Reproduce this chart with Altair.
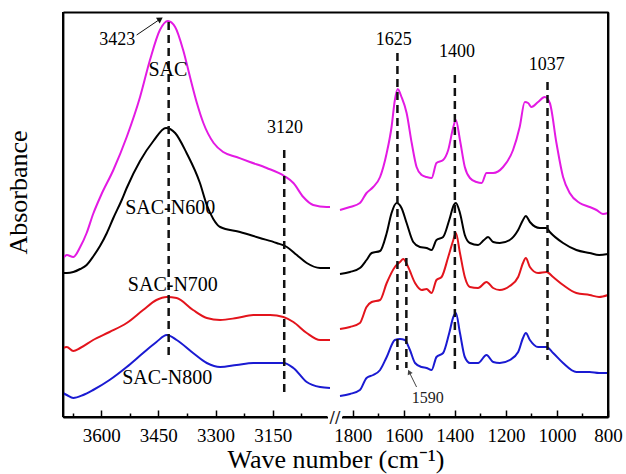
import altair as alt
import pandas as pd

# ---------------- data (wave number cm-1, absorbance a.u.) ----------------
SERIES = ["SAC", "SAC-N600", "SAC-N700", "SAC-N800"]
COLORS = ["#e31ae3", "#000000", "#e3141c", "#1a1ad2"]

SAC_WN_HI = [3700, 3690, 3673, 3655, 3638, 3621, 3600, 3568, 3533, 3498, 3472, 3446, 3425, 3406,
             3385, 3367, 3349, 3332, 3305, 3280, 3245, 3210, 3166, 3120, 3096, 3070, 3044, 3009, 3000]
SAC_AB_HI = [1.59, 1.62, 1.60, 1.70, 1.84, 2.03, 2.22, 2.47, 2.80, 3.20, 3.57, 3.87, 3.96, 3.90,
             3.67, 3.40, 3.14, 2.94, 2.74, 2.65, 2.60, 2.55, 2.49, 2.41, 2.34, 2.20, 2.12, 2.10, 2.10]
SAC_WN_LO = [1850, 1811, 1772, 1746, 1720, 1693, 1667, 1648, 1635, 1624, 1609, 1589, 1569, 1550,
             1530, 1511, 1491, 1472, 1446, 1426, 1406, 1396, 1380, 1361, 1341, 1315, 1295, 1276,
             1250, 1211, 1172, 1146, 1126, 1113, 1100, 1074, 1048, 1028, 1002, 976, 950, 911, 872,
             845, 820, 800]
SAC_AB_LO = [2.07, 2.10, 2.14, 2.24, 2.30, 2.40, 2.64, 2.90, 3.17, 3.28, 3.20, 3.04, 2.74, 2.50,
             2.42, 2.40, 2.39, 2.54, 2.57, 2.67, 2.90, 2.97, 2.77, 2.50, 2.39, 2.35, 2.34, 2.44,
             2.44, 2.50, 2.67, 2.90, 3.15, 3.14, 3.10, 3.15, 3.20, 3.14, 2.74, 2.40, 2.24, 2.14, 2.10,
             2.07, 2.03, 2.04]

N600_WN_HI = [3700, 3690, 3673, 3655, 3638, 3620, 3603, 3585, 3568, 3546, 3533, 3498, 3463, 3430,
              3406, 3376, 3341, 3323, 3306, 3288, 3236, 3184, 3140, 3113, 3087, 3061, 3026, 3000]
N600_AB_HI = [1.44, 1.44, 1.45, 1.48, 1.52, 1.61, 1.71, 1.84, 1.99, 2.17, 2.29, 2.56, 2.76, 2.89,
              2.84, 2.64, 2.34, 2.12, 1.98, 1.90, 1.85, 1.79, 1.74, 1.70, 1.62, 1.54, 1.49, 1.49]
N600_WN_LO = [1850, 1811, 1772, 1746, 1726, 1693, 1667, 1648, 1628, 1609, 1589, 1563, 1537, 1511,
              1491, 1472, 1446, 1422, 1404, 1396, 1380, 1361, 1341, 1309, 1286, 1270, 1250, 1224,
              1185, 1152, 1133, 1122, 1106, 1067, 1041, 1028, 976, 924, 872, 835, 800]
N600_AB_LO = [1.43, 1.45, 1.49, 1.57, 1.64, 1.66, 1.84, 2.04, 2.14, 2.09, 1.94, 1.75, 1.70, 1.69,
              1.67, 1.77, 1.80, 1.97, 2.12, 2.14, 2.04, 1.82, 1.74, 1.72, 1.77, 1.80, 1.75, 1.74,
              1.77, 1.87, 1.97, 2.01, 1.95, 1.89, 1.89, 1.85, 1.74, 1.67, 1.64, 1.62, 1.63]

N700_WN_HI = [3700, 3690, 3673, 3655, 3621, 3578, 3533, 3490, 3455, 3428, 3402, 3359, 3323, 3288,
              3245, 3201, 3157, 3122, 3096, 3061, 3026, 3000]
N700_AB_HI = [0.69, 0.70, 0.66, 0.69, 0.77, 0.85, 0.94, 1.07, 1.17, 1.20, 1.19, 1.07, 0.99, 0.97,
              0.99, 1.02, 1.02, 1.00, 0.95, 0.84, 0.77, 0.77]
N700_WN_LO = [1850, 1811, 1772, 1746, 1726, 1693, 1667, 1635, 1615, 1602, 1583, 1556, 1530, 1511,
              1491, 1472, 1452, 1426, 1406, 1396, 1380, 1361, 1341, 1309, 1276, 1250, 1224, 1185,
              1152, 1133, 1122, 1106, 1074, 1041, 1015, 976, 924, 872, 835, 800]
N700_AB_LO = [0.88, 0.90, 0.94, 1.10, 1.15, 1.17, 1.34, 1.50, 1.55, 1.58, 1.50, 1.34, 1.27, 1.28,
              1.24, 1.37, 1.40, 1.60, 1.77, 1.84, 1.64, 1.40, 1.30, 1.29, 1.35, 1.29, 1.27, 1.31,
              1.40, 1.54, 1.59, 1.50, 1.44, 1.45, 1.40, 1.32, 1.24, 1.22, 1.20, 1.22]

N800_WN_HI = [3700, 3690, 3673, 3647, 3621, 3578, 3533, 3490, 3455, 3428, 3402, 3359, 3323, 3288,
              3245, 3201, 3157, 3122, 3096, 3061, 3026, 3000]
N800_AB_HI = [0.24, 0.22, 0.19, 0.22, 0.27, 0.37, 0.50, 0.64, 0.75, 0.82, 0.77, 0.64, 0.54, 0.50,
              0.52, 0.54, 0.54, 0.54, 0.49, 0.35, 0.30, 0.29]
N800_WN_LO = [1850, 1811, 1772, 1746, 1720, 1693, 1667, 1635, 1615, 1596, 1576, 1556, 1530, 1511,
              1491, 1472, 1446, 1422, 1406, 1396, 1380, 1361, 1341, 1309, 1276, 1250, 1224, 1185,
              1152, 1133, 1122, 1106, 1074, 1041, 1015, 976, 924, 872, 835, 800]
N800_AB_LO = [0.21, 0.23, 0.27, 0.39, 0.42, 0.47, 0.60, 0.77, 0.78, 0.77, 0.67, 0.54, 0.50, 0.49,
              0.47, 0.60, 0.64, 0.84, 1.00, 1.04, 0.84, 0.60, 0.54, 0.54, 0.62, 0.55, 0.54, 0.57,
              0.65, 0.79, 0.84, 0.77, 0.70, 0.70, 0.64, 0.54, 0.45, 0.45, 0.44, 0.44]

# marked bands (dashed lines): wave number, top and bottom absorbance
BAND_WN = [3423, 3120, 1625, 1590, 1400, 1037]
BAND_TOP = [3.95, 2.67, 3.64, 1.59, 3.42, 3.35]
BAND_BOT = [0.60, 0.20, 0.47, 0.49, 0.45, 0.57]

# text annotations
SERIES_LABEL_WN = [3425, 3419, 3412, 3427]
SERIES_LABEL_AB = [3.47, 2.09, 1.32, 0.39]
PEAK_TEXT = ["3423", "3120", "1625", "1400", "1037"]
PEAK_WN = [3558, 3118, 1639, 1392, 1040]
PEAK_AB = [3.77, 2.89, 3.77, 3.65, 3.52]
SMALL_TEXT = ["1590"]
SMALL_WN = [1506]
SMALL_AB = [0.19]

# arrows (start wn, start ab, end wn, end ab)
ARROW_BIG = [3507, 3.82, 3445, 3.98]
ARROW_SMALL = [1550, 0.30, 1579, 0.45]

# axis ticks
MAJOR_TICKS = [3600, 3450, 3300, 3150, 1800, 1600, 1400, 1200, 1000, 800]
MINOR_TICKS = [3675, 3525, 3375, 3225, 3075, 1700, 1500, 1300, 1100, 900]

# ---------------- broken axis mapping ----------------
HI_START, HI_END = 3700, 3000
LO_START, LO_END = 1850, 800
HI_W, GAP, LO_W = 267, 10, 268
TOTAL = HI_W + GAP + LO_W
Y_MAX = 4.05
H = 405


def to_pos(wn):
    if wn >= 2500:
        return (HI_START - wn) * HI_W / (HI_START - HI_END)
    return HI_W + GAP + (LO_START - wn) * LO_W / (LO_START - LO_END)


rows = []
for name, parts in zip(SERIES, [
    [(SAC_WN_HI, SAC_AB_HI), (SAC_WN_LO, SAC_AB_LO)],
    [(N600_WN_HI, N600_AB_HI), (N600_WN_LO, N600_AB_LO)],
    [(N700_WN_HI, N700_AB_HI), (N700_WN_LO, N700_AB_LO)],
    [(N800_WN_HI, N800_AB_HI), (N800_WN_LO, N800_AB_LO)],
]):
    for panel, (wns, abs_) in enumerate(parts):
        for w, a in zip(wns, abs_):
            rows.append({"series": name, "panel": panel, "wn": w, "ab": a, "pos": to_pos(w)})
spec_df = pd.DataFrame(rows)

FONT = "Liberation Serif"
LINE = dict(domainColor="black", domainWidth=1.8)

x_scale = alt.Scale(domain=[0, TOTAL], nice=False, zero=False)
y_scale = alt.Scale(domain=[0, Y_MAX], nice=False, zero=False)

x_axis = alt.Axis(orient="bottom", values=[to_pos(v) for v in MAJOR_TICKS],
                  labelExpr=("datum.value < %d ? format(%d - datum.value*%f, '.0f') : "
                             "format(%d - (datum.value-%d)*%f, '.0f')")
                  % (HI_W + 5, HI_START, (HI_START - HI_END) / HI_W,
                     LO_START, HI_W + GAP, (LO_START - LO_END) / LO_W),
                  ticks=False, domain=True, grid=False, **LINE,
                  labelFont=FONT, labelFontSize=19, labelColor="black",
                  labelPadding=9, labelFlush=False, labelOverlap=False,
                  title="Wave number (cm⁻¹)", titleFont=FONT, titleFontSize=26,
                  titleFontWeight="normal", titleColor="black", titlePadding=1)
y_axis = alt.Axis(orient="left", labels=False, ticks=False, domain=True, grid=False, **LINE,
                  title="Absorbance", titleFont=FONT, titleFontSize=26,
                  titleFontWeight="normal", titleColor="black", titlePadding=32,
                  titleY=180)


def xq(f="pos"):
    return alt.X(f + ":Q", scale=x_scale, axis=x_axis)


def yq(f):
    return alt.Y(f + ":Q", scale=y_scale, axis=y_axis)


lines = alt.Chart(spec_df).mark_line(strokeWidth=2, interpolate="monotone").encode(
    x=xq(), y=yq("ab"),
    color=alt.Color("series:N", scale=alt.Scale(domain=SERIES, range=COLORS), legend=None),
    detail="panel:N",
)

band_df = pd.DataFrame({"wn": BAND_WN, "top": BAND_TOP, "bot": BAND_BOT})
band_df["pos"] = band_df["wn"].map(to_pos)
bands = alt.Chart(band_df).mark_rule(color="#111", strokeWidth=2.5, strokeDash=[8, 5]).encode(
    x=xq(), y=yq("top"), y2="bot:Q")

lab_df = pd.DataFrame({"t": SERIES, "wn": SERIES_LABEL_WN, "ab": SERIES_LABEL_AB})
lab_df["pos"] = lab_df["wn"].map(to_pos)
series_text = alt.Chart(lab_df).mark_text(font=FONT, fontSize=20, color="black",
                                          align="center", baseline="middle").encode(
    x=xq(), y=yq("ab"), text="t:N")

peak_df = pd.DataFrame({"t": PEAK_TEXT, "wn": PEAK_WN, "ab": PEAK_AB})
peak_df["pos"] = peak_df["wn"].map(to_pos)
peak_text = alt.Chart(peak_df).mark_text(font=FONT, fontSize=18, color="black",
                                         align="center", baseline="middle").encode(
    x=xq(), y=yq("ab"), text="t:N")

small_df = pd.DataFrame({"t": SMALL_TEXT, "wn": SMALL_WN, "ab": SMALL_AB})
small_df["pos"] = small_df["wn"].map(to_pos)
small_text = alt.Chart(small_df).mark_text(font=FONT, fontSize=16, color="#222",
                                           align="center", baseline="middle").encode(
    x=xq(), y=yq("ab"), text="t:N")


def arrow(a, color, width, size, angle):
    df = pd.DataFrame({"p1": [to_pos(a[0])], "a1": [a[1]], "p2": [to_pos(a[2])], "a2": [a[3]]})
    shaft = alt.Chart(df).mark_rule(color=color, strokeWidth=width).encode(
        x=xq("p1"), y=yq("a1"), x2="p2:Q", y2="a2:Q")
    head = alt.Chart(df).mark_point(shape="triangle-up", filled=True, color=color, size=size,
                                    angle=angle, opacity=1).encode(
        x=xq("p2"), y=yq("a2"))
    return shaft + head


arrow_big = arrow(ARROW_BIG, "#111", 1, 45, 56)
arrow_small = arrow(ARROW_SMALL, "#444", 1, 30, 334)

# frame drawn as rules as well (left, right, bottom split at the break)
FRAME = dict(color="black", strokeWidth=2)
one = pd.DataFrame({"a": [0]})
frame_left = alt.Chart(one).mark_rule(**FRAME).encode(
    x=alt.value(0), y=alt.value(0), y2=alt.value(H))
frame_right = alt.Chart(one).mark_rule(**FRAME).encode(
    x=alt.value(TOTAL), y=alt.value(0), y2=alt.value(H))
frame_bl = alt.Chart(one).mark_rule(**FRAME).encode(
    x=alt.value(0), x2=alt.value(HI_W - 3), y=alt.value(H))
frame_br = alt.Chart(one).mark_rule(**FRAME).encode(
    x=alt.value(HI_W + GAP + 3), x2=alt.value(TOTAL), y=alt.value(H))

# break in the bottom axis: white gap plus "//"
brk_df = pd.DataFrame({"t": ["//"], "pos": [HI_W + GAP / 2], "p1": [HI_W - 2], "p2": [HI_W + GAP + 2]})
gap = alt.Chart(brk_df).mark_rect(color="white").encode(
    x=xq("p1"), x2="p2:Q", y=alt.value(H - 3), y2=alt.value(H + 3))
brk = alt.Chart(brk_df).mark_text(font="DejaVu Sans", fontSize=16, color="#222",
                                  align="center", baseline="middle").encode(
    x=xq(), y=alt.value(H + 1), text="t:N")

main = alt.layer(lines, bands, series_text, peak_text, small_text, arrow_big, arrow_small,
                 gap, frame_left, frame_right, frame_bl, frame_br, brk)

# top and right sides of the frame
frame_tr = alt.Chart(band_df).mark_point(opacity=0).encode(
    x=alt.X("pos:Q", scale=x_scale,
            axis=alt.Axis(orient="top", labels=False, ticks=False, grid=False, title=None, **LINE)),
    y=alt.Y("top:Q", scale=y_scale,
            axis=alt.Axis(orient="right", labels=False, ticks=False, grid=False, title=None, **LINE)),
)

# inward ticks on the bottom axis
major_df = pd.DataFrame({"pos": [to_pos(v) for v in MAJOR_TICKS]})
minor_df = pd.DataFrame({"pos": [to_pos(v) for v in MINOR_TICKS]})
major_ticks = alt.Chart(major_df).mark_point(opacity=0).encode(
    x=alt.X("pos:Q", scale=x_scale,
            axis=alt.Axis(orient="bottom", values=[to_pos(v) for v in MAJOR_TICKS], labels=False,
                          domain=False, grid=False, title=None, ticks=True, tickSize=7,
                          tickWidth=1.5, tickColor="black", offset=-7)),
    y=alt.Y(datum=1, scale=y_scale, axis=None),
)
minor_ticks = alt.Chart(minor_df).mark_point(opacity=0).encode(
    x=alt.X("pos:Q", scale=x_scale,
            axis=alt.Axis(orient="bottom", values=[to_pos(v) for v in MINOR_TICKS], labels=False,
                          domain=False, grid=False, title=None, ticks=True, tickSize=4,
                          tickWidth=1.5, tickColor="black", offset=-4)),
    y=alt.Y(datum=1, scale=y_scale, axis=None),
)

chart = alt.layer(main, frame_tr, major_ticks, minor_ticks).resolve_axis(
    x="independent", y="independent"
).properties(
    width=TOTAL, height=H,
    autosize=alt.AutoSizeParams(type="none"),
    padding={"left": 63, "top": 12, "right": 18, "bottom": 57},
    background="white",
).configure_view(stroke=None)

chart.save("out.html", embed_options={"renderer": "svg", "actions": False})
